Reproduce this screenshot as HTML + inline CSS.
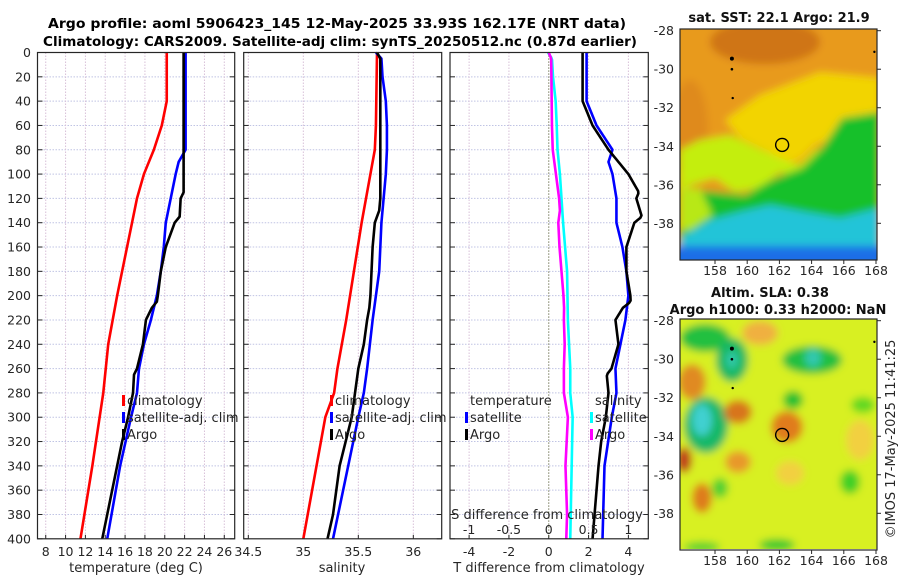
<!DOCTYPE html>
<html><head><meta charset="utf-8"><style>
html,body{margin:0;padding:0;background:#fff}
svg{display:block;font-family:"DejaVu Sans","Liberation Sans",sans-serif}
</style></head><body>
<svg id="fig" width="900" height="580" viewBox="0 0 900 580" xmlns="http://www.w3.org/2000/svg">
<defs>
<filter id="blur" x="-20%" y="-20%" width="140%" height="140%"><feGaussianBlur stdDeviation="4"/></filter>
<clipPath id="clipTop"><rect x="680" y="29" width="197" height="231"/></clipPath>
<clipPath id="clipBot"><rect x="680" y="319" width="197" height="230"/></clipPath>
</defs>
<text x="337" y="28" text-anchor="middle" font-size="13" font-weight="bold" textLength="578" lengthAdjust="spacingAndGlyphs">Argo profile: aoml 5906423_145 12-May-2025 33.93S 162.17E (NRT data)</text>
<text x="340" y="46" text-anchor="middle" font-size="13" font-weight="bold" textLength="594" lengthAdjust="spacingAndGlyphs">Climatology: CARS2009. Satellite-adj clim: synTS_20250512.nc (0.87d earlier)</text>
<g id="panels"></g>
<g id="maps"></g>
<text transform="translate(895,439) rotate(-90)" text-anchor="middle" font-size="13" fill="#262626">©IMOS 17-May-2025 11:41:25</text>
</svg>
<script>
// ---- data ----
const climDepth = [0,40,60,80,100,120,140,160,200,240,280,340,400];
const climT = [20.2,20.2,19.7,18.9,17.9,17.2,16.7,16.2,15.2,14.3,13.8,12.7,11.5];
const argoTDepth = [0,115,120,135,140,160,180,200,205,210,220,240,260,265,280,300,320,340,360,380,400];
const argoT = [21.9,21.9,21.6,21.5,21.0,20.1,19.6,19.3,19.2,18.7,18.1,17.8,17.2,16.9,16.8,16.3,15.7,15.2,14.7,14.2,13.7];
const satTDepth = [0,80,90,100,120,140,160,180,200,220,240,260,280,300,340,400];
const satT = [22.1,22.1,21.4,21.1,20.6,20.1,19.9,19.6,19.2,18.6,17.9,17.4,17.2,16.6,15.5,14.2];
const climSDepth = [0,60,80,100,140,180,220,260,280,300,400];
const climS = [35.67,35.66,35.65,35.61,35.53,35.46,35.39,35.31,35.28,35.20,35.00];
const argoSDepth = [0,5,20,120,130,140,160,200,210,220,240,260,280,300,340,380,400];
const argoS = [35.67,35.70,35.70,35.70,35.69,35.65,35.63,35.61,35.60,35.58,35.55,35.50,35.47,35.44,35.33,35.27,35.22];
const satSDepth = [0,5,20,40,60,80,100,140,180,220,260,280,300,400];
const satS = [35.66,35.71,35.72,35.75,35.76,35.76,35.75,35.71,35.69,35.63,35.58,35.55,35.50,35.27];
const depthTicks = [0,20,40,60,80,100,120,140,160,180,200,220,240,260,280,300,320,340,360,380,400];
const tTicks = [8,10,12,14,16,18,20,22,24,26];
const sTicks = [34.5,35,35.5,36];
const dTTicks = [-4,-2,0,2,4];
const dSTicks = [-1,-0.5,0,0.5,1];
const lonTicks = [158,160,162,164,166,168];
const latTicks = [-28,-30,-32,-34,-36,-38];

const NS="http://www.w3.org/2000/svg";
function mk(tag, attrs, parent){const e=document.createElementNS(NS,tag);for(const k in attrs)e.setAttribute(k,attrs[k]);parent.appendChild(e);return e;}
const P=document.getElementById('panels');
const top0=52.5, bot0=538.8;
const yD = d => top0 + d*(bot0-top0)/400;
function lin(d0,d1,r0,r1){return v=>r0+(v-d0)*(r1-r0)/(d1-d0);}
const panels=[
 {x0:37.5,x1:234.7,sx:lin(7.17,27.05,37.5,234.7),ticks:tTicks,name:'temperature-panel'},
 {x0:243.7,x1:441.7,sx:lin(34.458,36.258,243.7,441.7),ticks:sTicks,name:'salinity-panel'},
 {x0:450,x1:648.3,sx:lin(-4.96,5.0,450,648.3),ticks:dTTicks,name:'difference-panel'}
];
function interp(ds,vs,d){if(d<=ds[0])return vs[0];for(let i=1;i<ds.length;i++){if(d<=ds[i]){const f=(d-ds[i-1])/(ds[i]-ds[i-1]);return vs[i-1]+f*(vs[i]-vs[i-1]);}}return vs[vs.length-1];}
function line(g,ds,vs,sx,color,name){
  const pts=ds.map((d,i)=>sx(vs[i]).toFixed(2)+','+yD(d).toFixed(2)).join(' ');
  const e=mk('polyline',{points:pts,fill:'none',stroke:color,'stroke-width':2.6,'stroke-linejoin':'round'},g);
  
  
}
panels.forEach((p,pi)=>{
  const g=mk('g',{},P);
  
  
  // grid
  depthTicks.forEach(d=>{ if(d>0&&d<400) mk('line',{x1:p.x0,x2:p.x1,y1:yD(d),y2:yD(d),stroke:'#c0c4e4','stroke-width':1,'stroke-dasharray':'1.5,1.5'},g);});
  p.ticks.forEach(t=>{const x=p.sx(t); mk('line',{x1:x,x2:x,y1:top0,y2:bot0,stroke:'#d8c0d8','stroke-width':1,'stroke-dasharray':'1.5,1.5'},g);});
  // ticks
  depthTicks.forEach(d=>{mk('line',{x1:p.x0,x2:p.x0+5,y1:yD(d),y2:yD(d),stroke:'#262626'},g);mk('line',{x1:p.x1-5,x2:p.x1,y1:yD(d),y2:yD(d),stroke:'#262626'},g);});
  p.ticks.forEach(t=>{const x=p.sx(t);mk('line',{x1:x,x2:x,y1:bot0-4,y2:bot0,stroke:'#262626'},g);
    const lb=mk('text',{x:x,y:556,'text-anchor':'middle','font-size':12.5,fill:'#262626'},g);lb.textContent=String(t);
    
    
  });
});
// y tick labels
depthTicks.forEach(d=>{const t=mk('text',{x:31,y:yD(d)+4.5,'text-anchor':'end','font-size':12.5,fill:'#262626'},P);t.textContent=String(d);
  
  
});
// panel 1 lines
line(P,climDepth,climT,panels[0].sx,'#ff0000','climatology-temperature-line');
line(P,satTDepth,satT,panels[0].sx,'#0000ff','satellite-temperature-line');
line(P,argoTDepth,argoT,panels[0].sx,'#000000','argo-temperature-line');
// panel 2
line(P,climSDepth,climS,panels[1].sx,'#ff0000','climatology-salinity-line');
line(P,satSDepth,satS,panels[1].sx,'#0000ff','satellite-salinity-line');
line(P,argoSDepth,argoS,panels[1].sx,'#000000','argo-salinity-line');
// panel 3 differences (computed)
const dd=[];for(let d=0;d<=400;d+=2)dd.push(d);
const sxT=panels[2].sx, sxS=v=>panels[2].sx(v*4);
mk('line',{x1:sxT(0),x2:sxT(0),y1:top0,y2:bot0,stroke:'#556b2f','stroke-width':1,'stroke-dasharray':'1,2'},P);
const satSd=dd.map(d=>interp(satSDepth,satS,d)-interp(climSDepth,climS,d));
const argoSd=dd.map(d=>interp(argoSDepth,argoS,d)-interp(climSDepth,climS,d));
const satTd=dd.map(d=>interp(satTDepth,satT,d)-interp(climDepth,climT,d));
const argoTd=dd.map(d=>interp(argoTDepth,argoT,d)-interp(climDepth,climT,d));
line(P,dd,satSd,sxS,'#00ffff','satellite-salinity-diff-line');
line(P,dd,argoSd,sxS,'#ff00ff','argo-salinity-diff-line');
line(P,dd,satTd,sxT,'#0000ff','satellite-temperature-diff-line');
line(P,dd,argoTd,sxT,'#000000','argo-temperature-diff-line');
// frames
panels.forEach(p=>{const r=mk('rect',{x:p.x0,y:top0,width:p.x1-p.x0,height:bot0-top0,fill:'none',stroke:'#262626','stroke-width':1.2},P);
  
  
});
// S diff axis labels
const sl=mk('text',{x:547,y:519,'text-anchor':'middle','font-size':13,fill:'#262626'},P);sl.textContent='S difference from climatology';


dSTicks.forEach(t=>{const x=sxS(t);const lb=mk('text',{x:x,y:534,'text-anchor':'middle','font-size':12.5,fill:'#262626'},P);lb.textContent=String(t);
  
  
});
// axis titles
[['temperature (deg C)',136,'temperature-axis-title'],['salinity',342,'salinity-axis-title'],['T difference from climatology',549,'t-diff-axis-title']].forEach(a=>{
  const t=mk('text',{x:a[1],y:572,'text-anchor':'middle','font-size':13,fill:'#262626'},P);t.textContent=a[0];
  
  
});
// legends
function leg(x,y,color,label,name){
  const g=mk('g',{},P);
  
  
  mk('rect',{x:x,y:y-10,width:3,height:11,fill:color},g);
  const t=mk('text',{x:x+5,y:y,'font-size':13,fill:'#262626'},g);t.textContent=label;
}
leg(122,405,'#ff0000','climatology','legend-climatology-t');
leg(122,422,'#0000ff','satellite-adj. clim','legend-satellite-t');
leg(122,439,'#000000','Argo','legend-argo-t');
leg(330,405,'#ff0000','climatology','legend-climatology-s');
leg(330,422,'#0000ff','satellite-adj. clim','legend-satellite-s');
leg(330,439,'#000000','Argo','legend-argo-s');
(()=>{const t=mk('text',{x:470,y:405,'font-size':13,fill:'#262626'},P);t.textContent='temperature';
 
 
 const s=mk('text',{x:595,y:405,'font-size':13,fill:'#262626'},P);s.textContent='salinity';
 
 })();
leg(465,422,'#0000ff','satellite','legend-satellite-dt');
leg(465,439,'#000000','Argo','legend-argo-dt');
leg(590,422,'#00ffff','satellite','legend-satellite-ds');
leg(590,439,'#ff00ff','Argo','legend-argo-ds');

// ---- maps ----
const M=document.getElementById('maps');
const lonX=lon=>715+(lon-158)*16.1;
function map(y0,latY,clip,name,layers,title){
  const g=mk('g',{},M);
  
  
  const c=mk('g',{'clip-path':'url(#'+clip+')'},g);
  const inner=mk('g',{filter:'url(#blur)'},c);
  layers.forEach(l=>{const e=mk(l[0],l[1],inner);});
  // argo position
  const ci=mk('circle',{cx:lonX(162.17),cy:latY(-33.93),r:6.5,fill:'none',stroke:'#000','stroke-width':1.4},g);
  
  
  [[159.05,-29.45,2],[159.05,-30,1.3],[159.1,-31.5,1.2],[167.9,-29.1,1.2]].forEach(p=>mk('circle',{cx:lonX(p[0]),cy:latY(p[1]),r:p[2],fill:'#000'},g));
  mk('rect',{x:680,y:y0,width:197,height:231,fill:'none',stroke:'#262626','stroke-width':1.2},g);
  latTicks.forEach(l=>{const y=latY(l);mk('line',{x1:877,x2:881,y1:y,y2:y,stroke:'#262626'},g);
    const t=mk('text',{x:674,y:y+4.5,'text-anchor':'end','font-size':12.5,fill:'#262626'},g);t.textContent=String(l);
    
    });
  lonTicks.forEach(l=>{const x=lonX(l);mk('line',{x1:x,x2:x,y1:y0+231,y2:y0+235,stroke:'#262626'},g);
    const t=mk('text',{x:x,y:y0+246,'text-anchor':'middle','font-size':12.5,fill:'#262626'},g);t.textContent=String(l);
    
    });
}
const latTop=l=>30.7+(-28-l)*19.26;
const latBot=l=>320.7+(-28-l)*19.26;
map(29,latTop,'clipTop','sst-map',[
 ['rect',{x:670,y:20,width:220,height:250,fill:'#e89a1c'}],
 ['ellipse',{cx:765,cy:42,rx:55,ry:22,fill:'#cf7418'}],
 ['ellipse',{cx:690,cy:130,rx:18,ry:50,fill:'#df8a1c'}],
 ['polygon',{points:'725,120 760,95 820,72 880,78 880,130 845,135 815,145 800,160 785,162 765,150 740,138',fill:'#f2d400'}],
 ['polygon',{points:'700,140 730,135 780,158 800,165 815,150 845,140 880,138 880,150 850,155 830,168 800,178 780,172 760,188 735,192 715,178 690,185 680,200 680,150',fill:'#c4ee10'}],
 ['polygon',{points:'880,112 842,118 822,148 802,168 775,178 745,195 715,192 690,190 680,205 680,270 880,270',fill:'#14c02c'}],
 ['polygon',{points:'680,190 700,188 712,215 690,230 680,230',fill:'#b8e818'}],
 ['polygon',{points:'680,238 710,220 740,212 770,205 805,212 840,218 880,208 880,270 680,270',fill:'#22c4d8'}],
 ['rect',{x:670,y:246,width:220,height:25,fill:'#1c6ee6'}]
],'sst');
map(319,latBot,'clipBot','sla-map',[
 ['rect',{x:670,y:310,width:220,height:250,fill:'#d8f024'}],
 ['ellipse',{cx:760,cy:333,rx:18,ry:12,fill:'#f0b040'}],
 ['ellipse',{cx:790,cy:473,rx:14,ry:12,fill:'#f2d040'}],
 ['ellipse',{cx:860,cy:440,rx:14,ry:20,fill:'#f2d040'}],
 ['ellipse',{cx:705,cy:338,rx:25,ry:14,fill:'#20c040'}],
 ['ellipse',{cx:732,cy:360,rx:16,ry:22,fill:'#18b860'}],
 ['ellipse',{cx:732,cy:360,rx:6,ry:9,fill:'#30c8a8'}],
 ['ellipse',{cx:812,cy:360,rx:30,ry:14,fill:'#20c040'}],
 ['ellipse',{cx:813,cy:358,rx:8,ry:9,fill:'#30c8b0'}],
 ['ellipse',{cx:706,cy:425,rx:22,ry:28,fill:'#18b868'}],
 ['ellipse',{cx:702,cy:420,rx:10,ry:16,fill:'#40d0d0'}],
 ['ellipse',{cx:692,cy:382,rx:14,ry:18,fill:'#e08a20'}],
 ['ellipse',{cx:738,cy:412,rx:14,ry:12,fill:'#d8741c'}],
 ['ellipse',{cx:787,cy:427,rx:16,ry:16,fill:'#e07c1c'}],
 ['ellipse',{cx:684,cy:460,rx:8,ry:13,fill:'#c03c1c'}],
 ['ellipse',{cx:738,cy:462,rx:13,ry:11,fill:'#e8982c'}],
 ['ellipse',{cx:702,cy:498,rx:10,ry:15,fill:'#de7c1c'}],
 ['ellipse',{cx:793,cy:400,rx:10,ry:9,fill:'#20c030'}],
 ['ellipse',{cx:850,cy:482,rx:10,ry:12,fill:'#40d028'}],
 ['ellipse',{cx:863,cy:405,rx:12,ry:8,fill:'#60d820'}],
 ['ellipse',{cx:777,cy:545,rx:18,ry:6,fill:'#30c830'}],
 ['ellipse',{cx:702,cy:547,rx:18,ry:5,fill:'#50d030'}],
 ['ellipse',{cx:720,cy:488,rx:8,ry:10,fill:'#50d030'}]
],'sla');
(()=>{
 const a=mk('text',{x:779,y:22,'text-anchor':'middle','font-size':13,'font-weight':'bold',fill:'#111'},M);a.textContent='sat. SST: 22.1 Argo: 21.9';
 
 
 const b=mk('text',{x:770,y:297,'text-anchor':'middle','font-size':13,'font-weight':'bold',fill:'#111'},M);b.textContent='Altim. SLA: 0.38';
 
 
 const c=mk('text',{x:778,y:314,'text-anchor':'middle','font-size':13,'font-weight':'bold',fill:'#111'},M);c.textContent='Argo h1000: 0.33 h2000: NaN';
 
 
})();
</script>
</body></html>
